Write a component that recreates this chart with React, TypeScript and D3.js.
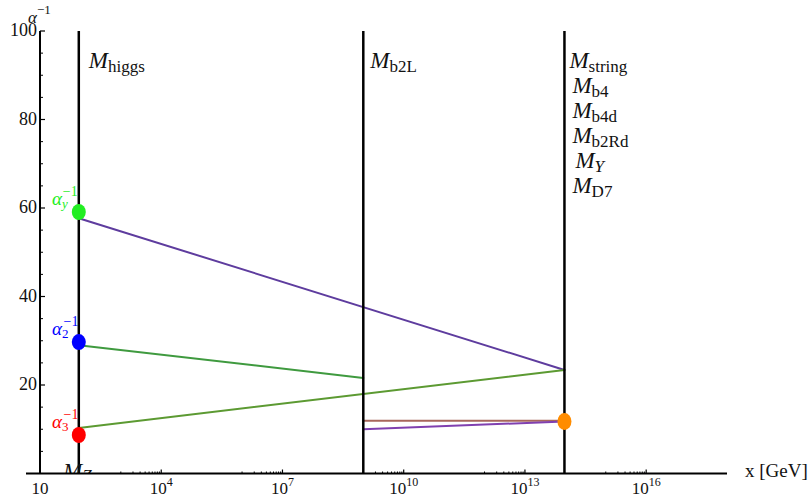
import * as d3 from "d3";

// energy scales (GeV)
const MZ = 91.19;
const MB2L = 1e9;
const MSTRING = 9.5e13;

// inverse couplings at the boundaries
const alphaY = [57.7, 23.4];
const alpha2 = [29.0, 21.6];
const alpha3 = [10.3, 23.4];
const brownFlat = [11.9, 11.9];
const purpleLow = [10.0, 11.75];

// dots at M_Z and at M_string
const startDots = [
  { v: 59.1, color: "#22ee22", label: "y" },
  { v: 29.7, color: "#0000ff", label: "2" },
  { v: 8.7, color: "#ff0000", label: "3" },
];
const endDot = { v: 11.75, color: "#ff8c00" };

const xMajor = [1, 4, 7, 10, 13, 16];
const yMajor = [20, 40, 60, 80, 100];
const yMinor = d3.range(5, 100, 5).filter((v) => v % 20 !== 0);

const stringLabels = ["string", "b4", "b4d", "b2Rd", "Y", "D7"];

const W = 811;
const H = 501;
const font = "Liberation Serif, Times New Roman, DejaVu Serif, serif";

export default function App() {
  const x = d3.scaleLog().domain([10, 1e18]).range([40, 727]);
  const y = d3.scaleLinear().domain([0, 100]).range([473.5, 31]);
  const y0 = y(0);

  const seg = (a: number, b: number, vals: number[]) =>
    d3.line<[number, number]>()
      .x((d) => x(d[0]))
      .y((d) => y(d[1]))([
      [a, vals[0]],
      [b, vals[1]],
    ]) as string;

  const minors: number[] = [];
  xMajor.slice(1).forEach((e) => {
    for (let k = 1; k < 10; k++) minors.push(k * Math.pow(10, e - 1));
  });

  const mLabel = (xx: number, yy: number, sub: string, italicSub = false) => (
    <text key={sub} x={xx} y={yy} fill="#111">
      <tspan fontStyle="italic" fontSize={23}>M</tspan>
      <tspan fontSize={17} dy={4} fontStyle={italicSub ? "italic" : "normal"}>
        {sub}
      </tspan>
    </text>
  );

  return (
    <svg
      width={W}
      height={H}
      style={{
        position: "absolute",
        left: 0,
        top: 0,
        background: "#fff",
        fontFamily: font,
      }}
    >
      <defs>
        <clipPath id="plotclip">
          <rect x={0} y={0} width={W} height={y0} />
        </clipPath>
      </defs>

      {/* coupling lines */}
      <g fill="none" strokeWidth={2} strokeLinecap="round">
        <path d={seg(MZ, MSTRING, alphaY)} stroke="#5e3c9e" />
        <path d={seg(MZ, MB2L, alpha2)} stroke="#3f9a3f" />
        <path d={seg(MZ, MSTRING, alpha3)} stroke="#5c9a32" />
        <path d={seg(MB2L, MSTRING, brownFlat)} stroke="#a8675c" />
        <path d={seg(MB2L, MSTRING, purpleLow)} stroke="#8040b0" />
      </g>

      {/* vertical scale lines */}
      {[MZ, MB2L, MSTRING].map((m, i) => (
        <line
          key={i}
          x1={x(m)}
          x2={x(m)}
          y1={y(100)}
          y2={y0}
          stroke="#000"
          strokeWidth={2.5}
        />
      ))}

      {/* dots */}
      {startDots.map((d) => (
        <ellipse key={d.label} cx={x(MZ)} cy={y(d.v)} rx={7} ry={8} fill={d.color} />
      ))}
      <ellipse cx={x(MSTRING)} cy={y(endDot.v)} rx={7} ry={8.5} fill={endDot.color} />

      {/* alpha labels */}
      {startDots.map((d) => (
        <text key={"l" + d.label} x={52} y={y(d.v) - 7} fill={d.color}>
          <tspan fontStyle="italic" fontSize={19}>α</tspan>
          <tspan fontSize={13} dy={3} fontStyle={d.label === "y" ? "italic" : "normal"}>
            {d.label}
          </tspan>
          <tspan fontSize={14} dx={-5} dy={-12}>−1</tspan>
        </text>
      ))}

      {/* scale labels */}
      {mLabel(x(MZ) + 10, 68, "higgs")}
      {mLabel(x(MB2L) + 7, 68, "b2L")}
      {stringLabels.map((s, i) =>
        mLabel(
          x(MSTRING) + (i === 0 ? 5 : i === 4 ? 11 : 8),
          68 + i * 25,
          s,
          s === "Y"
        )
      )}
      <g clipPath="url(#plotclip)">
        <text x={63} y={479} fill="#111">
          <tspan fontStyle="italic" fontSize={23}>M</tspan>
          <tspan fontStyle="italic" fontSize={17} dy={2}>Z</tspan>
        </text>
      </g>

      {/* x axis */}
      <line x1={26} x2={727} y1={y0} y2={y0} stroke="#000" strokeWidth={2} />
      {minors.map((m, i) => (
        <line key={i} x1={x(m)} x2={x(m)} y1={y0} y2={y0 - 2} stroke="#000" strokeWidth={1} />
      ))}
      {xMajor.map((e) => (
        <g key={e}>
          <line
            x1={x(Math.pow(10, e))}
            x2={x(Math.pow(10, e))}
            y1={y0}
            y2={y0 - 4}
            stroke="#000"
            strokeWidth={1.2}
          />
          <text
            x={x(Math.pow(10, e))}
            y={494}
            textAnchor="middle"
            fontSize={17}
            fill="#111"
          >
            10
            {e > 1 && (
              <tspan fontSize={12} dy={-8}>
                {e}
              </tspan>
            )}
          </text>
        </g>
      ))}
      <text x={745} y={477} fontSize={19} fill="#111">
        x [GeV]
      </text>

      {/* y axis */}
      <line x1={40} x2={40} y1={y(100)} y2={y0} stroke="#000" strokeWidth={2} />
      {yMinor.map((v) => (
        <line key={v} x1={40} x2={43} y1={y(v)} y2={y(v)} stroke="#000" strokeWidth={1} />
      ))}
      {yMajor.map((v) => (
        <g key={v}>
          <line x1={40} x2={45} y1={y(v)} y2={y(v)} stroke="#000" strokeWidth={1.2} />
          <text x={37} y={y(v) + 5} textAnchor="end" fontSize={18} fill="#111">
            {v}
          </text>
        </g>
      ))}
      <text x={28} y={23} fill="#111">
        <tspan fontStyle="italic" fontSize={17}>α</tspan>
        <tspan fontSize={13} dy={-9}>−1</tspan>
      </text>
    </svg>
  );
}
